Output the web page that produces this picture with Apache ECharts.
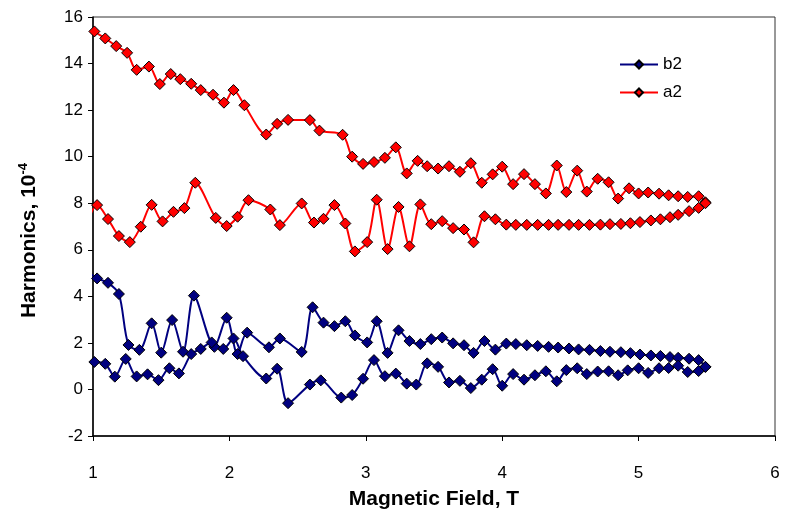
<!DOCTYPE html>
<html>
<head>
<meta charset="utf-8">
<script src="https://cdn.jsdelivr.net/npm/echarts@6/dist/echarts.min.js"></script>
<style>
    html, body { margin: 0; padding: 0; background: #fff; }
    #chart { width: 792px; height: 517px; }
</style>
</head>
<body>
<div id="chart"></div>
<script>
// field [T], harmonic [1e-4] ; each quantity has a ramp-down and a ramp-up branch
var b2Upper = [[0.96,5.07],[1.03,4.77],[1.11,4.58],[1.19,4.10],[1.26,1.91],[1.34,1.70],[1.43,2.84],[1.50,1.58],[1.58,2.98],[1.66,1.62],[1.74,4.03],[1.89,1.83],[1.98,3.08],[2.06,1.52],[2.13,2.44],[2.29,1.81],[2.37,2.19],[2.53,1.61],[2.61,3.53],[2.69,2.87],[2.77,2.72],[2.85,2.93],[2.92,2.32],[3.01,2.02],[3.08,2.93],[3.16,1.57],[3.24,2.54],[3.32,2.08],[3.40,1.95],[3.48,2.16],[3.56,2.23],[3.64,1.98],[3.72,1.90],[3.79,1.57],[3.87,2.08],[3.95,1.71],[4.03,1.97],[4.10,1.95],[4.18,1.90],[4.26,1.87],[4.34,1.83],[4.41,1.80],[4.49,1.76],[4.56,1.72],[4.64,1.70],[4.72,1.65],[4.79,1.62],[4.87,1.60],[4.94,1.56],[5.01,1.50],[5.09,1.46],[5.16,1.44],[5.23,1.39],[5.29,1.36],[5.37,1.32],[5.44,1.26],[5.49,0.97]];
var b2Lower = [[0.97,1.15],[1.01,1.18],[1.09,1.10],[1.16,0.55],[1.24,1.31],[1.32,0.56],[1.40,0.65],[1.48,0.40],[1.56,0.91],[1.63,0.69],[1.72,1.52],[1.79,1.74],[1.87,2.02],[1.955,1.74],[2.03,2.19],[2.10,1.43],[2.27,0.47],[2.35,0.89],[2.43,-0.59],[2.59,0.21],[2.67,0.39],[2.82,-0.35],[2.90,-0.24],[2.98,0.46],[3.06,1.26],[3.14,0.57],[3.22,0.68],[3.30,0.25],[3.37,0.21],[3.45,1.12],[3.53,0.97],[3.61,0.30],[3.69,0.37],[3.77,0.06],[3.85,0.42],[3.93,0.87],[4.00,0.16],[4.08,0.66],[4.16,0.42],[4.24,0.61],[4.32,0.78],[4.40,0.35],[4.47,0.83],[4.55,0.91],[4.62,0.66],[4.70,0.77],[4.78,0.78],[4.85,0.61],[4.92,0.82],[5.00,0.91],[5.07,0.71],[5.15,0.91],[5.22,0.92],[5.29,1.02],[5.36,0.75],[5.44,0.79],[5.49,0.97]];
var a2Upper = [[0.96,15.65],[1.01,15.38],[1.09,15.08],[1.17,14.75],[1.25,14.46],[1.32,13.73],[1.41,13.87],[1.49,13.12],[1.57,13.55],[1.64,13.33],[1.72,13.13],[1.79,12.86],[1.88,12.66],[1.96,12.32],[2.03,12.86],[2.11,12.21],[2.27,10.95],[2.35,11.41],[2.43,11.58],[2.59,11.57],[2.66,11.12],[2.83,10.94],[2.90,10.0],[2.98,9.69],[3.06,9.77],[3.14,9.95],[3.22,10.40],[3.30,9.28],[3.38,9.82],[3.45,9.59],[3.53,9.49],[3.61,9.59],[3.69,9.35],[3.77,9.72],[3.85,8.88],[3.93,9.24],[4.00,9.57],[4.08,8.82],[4.16,9.25],[4.24,8.82],[4.32,8.42],[4.40,9.62],[4.47,8.48],[4.55,9.40],[4.62,8.50],[4.70,9.05],[4.78,8.90],[4.85,8.20],[4.93,8.64],[5.00,8.42],[5.07,8.46],[5.15,8.41],[5.22,8.34],[5.29,8.30],[5.36,8.27],[5.44,8.30],[5.49,8.04]];
var a2Lower = [[0.96,7.22],[1.03,7.92],[1.11,7.32],[1.19,6.59],[1.27,6.33],[1.35,6.99],[1.43,7.93],[1.51,7.22],[1.59,7.63],[1.67,7.79],[1.75,8.88],[1.90,7.37],[1.98,7.02],[2.06,7.42],[2.14,8.13],[2.30,7.73],[2.37,7.06],[2.53,7.99],[2.62,7.17],[2.69,7.33],[2.77,7.92],[2.85,7.13],[2.92,5.93],[3.01,6.33],[3.08,8.15],[3.16,6.03],[3.24,7.84],[3.32,6.15],[3.40,7.95],[3.48,7.10],[3.56,7.23],[3.64,6.93],[3.72,6.87],[3.79,6.32],[3.87,7.44],[3.95,7.31],[4.03,7.08],[4.10,7.07],[4.18,7.07],[4.26,7.07],[4.34,7.07],[4.41,7.07],[4.49,7.07],[4.56,7.07],[4.64,7.07],[4.72,7.08],[4.79,7.10],[4.87,7.11],[4.94,7.14],[5.01,7.19],[5.09,7.26],[5.16,7.31],[5.23,7.40],[5.29,7.50],[5.37,7.66],[5.44,7.80],[5.49,8.00]];

var xTicks = [1, 2, 3, 4, 5, 6];
var yTicks = [-2, 0, 2, 4, 6, 8, 10, 12, 14, 16];

var FONT = '"Liberation Sans", Arial, sans-serif';

// first point of each branch lies just left of the axis, Excel draws it without a marker
function branch(pts) {
    return pts.map(function (p, i) {
        return i === 0 ? { value: p, symbol: 'none' } : p;
    });
}

function makeSeries(name, color, pts) {
    return {
        name: name,
        type: 'line',
        data: branch(pts),
        smooth: 0.3,
        clip: false,
        symbol: 'diamond',
        symbolSize: 11,
        showAllSymbol: true,
        lineStyle: { color: color, width: 2 },
        itemStyle: { color: color, borderColor: '#000', borderWidth: 1 },
        z: name === 'b2' ? 3 : 2
    };
}

var chart = echarts.init(document.getElementById('chart'));
chart.setOption({
    animation: false,
    grid: {
        left: 93, right: 17, top: 17, bottom: 81,
        show: true, borderColor: '#333', borderWidth: 1
    },
    legend: {
        orient: 'vertical',
        left: 614, top: 51,
        itemWidth: 38, itemHeight: 10, itemGap: 11,
        data: ['b2', 'a2'],
        textStyle: { fontFamily: FONT, fontSize: 17, color: '#000' }
    },
    xAxis: {
        type: 'value',
        min: xTicks[0], max: xTicks[xTicks.length - 1], interval: 1,
        name: 'Magnetic Field, T',
        nameLocation: 'middle',
        nameGap: 53,
        nameTextStyle: { fontFamily: FONT, fontSize: 21, fontWeight: 'bold', color: '#000' },
        axisLine: { onZero: false, lineStyle: { color: '#000', width: 1.5 } },
        axisTick: { show: true, inside: false, length: 5, lineStyle: { color: '#000' } },
        axisLabel: { fontFamily: FONT, fontSize: 17, color: '#000', margin: 29 },
        splitLine: { show: false }
    },
    yAxis: {
        type: 'value',
        min: yTicks[0], max: yTicks[yTicks.length - 1], interval: 2,
        name: '{t|Harmonics, 10}{s|-4}',
        nameLocation: 'middle',
        nameGap: 52,
        nameTextStyle: {
            fontFamily: FONT, fontSize: 21, fontWeight: 'bold', color: '#000',
            padding: [0, 28, 0, 0],
            rich: {
                t: { fontFamily: FONT, fontSize: 21, fontWeight: 'bold', color: '#000' },
                s: { fontFamily: FONT, fontSize: 13, fontWeight: 'bold', color: '#000', verticalAlign: 'top', padding: [0, 0, 11, 0] }
            }
        },
        axisLine: { show: true, onZero: false, lineStyle: { color: '#000', width: 1.5 } },
        axisTick: { show: true, inside: false, length: 5, lineStyle: { color: '#000' } },
        axisLabel: { fontFamily: FONT, fontSize: 17, color: '#000', margin: 10 },
        splitLine: { show: false }
    },
    series: [
        makeSeries('b2', '#000080', b2Upper),
        makeSeries('b2', '#000080', b2Lower),
        makeSeries('a2', '#ff0000', a2Upper),
        makeSeries('a2', '#ff0000', a2Lower)
    ]
});
</script>
</body>
</html>
